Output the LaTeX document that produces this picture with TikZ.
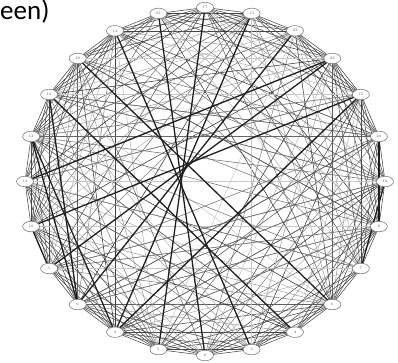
\documentclass[tikz,border=0pt]{standalone}
\usepackage{fontspec}
\newfontfamily\slidefont{Carlito}
\usetikzlibrary{shapes.geometric,backgrounds}
\tikzset{
  vtx/.style={ellipse,draw=black!50,fill=white,line width=0.6pt,minimum width=17pt,minimum height=10.5pt,inner sep=0pt,font=\fontsize{3.6}{4}\selectfont,text=black!65},
  rimedge/.style={line width=0.55pt,black!72},
  thinedge/.style={line width=0.5pt},
  darkedge/.style={line width=1.3pt,black!88},
}
\begin{document}
\begin{tikzpicture}[x=1pt,y=-1pt]
\useasboundingbox (0,0) rectangle (398,363);
\node[anchor=base west,font=\slidefont\fontsize{27}{30}\selectfont,inner sep=0pt] (title) at (0,20) {een)};
% nodes placed clockwise from the top
\foreach \i/\l in {0/17,1/13,2/23,3/22,4/15,5/20,6/19,7/8,8/7,9/6,10/4,11/2,12/0,13/5,14/3,15/9,16/1,17/10,18/11,19/12,20/16,21/18,22/14,23/21}{
  \node[vtx] (n\i) at ({205+180*cos(90-15*\i)},{181.5-174*sin(90-15*\i)}) {\l};
}
\begin{pgfonlayer}{background}
  % dense band near the rim
  \foreach \i in {0,...,23}{
    \foreach \k in {1,2,3,4}{
      \pgfmathtruncatemacro{\j}{mod(\i+\k,24)}
      \draw[rimedge] (n\i.center) -- (n\j.center);
    }
  }
  % chords of varying darkness
  \foreach \i in {0,...,23}{
    \foreach \k in {5,...,10}{
      \pgfmathtruncatemacro{\j}{mod(\i+\k,24)}
      \pgfmathtruncatemacro{\h}{mod(\i*\i*5+\k*\k*3+\i*\k*7+11,13)}
      \ifnum\h<9
        \pgfmathtruncatemacro{\c}{30+11*mod(\i*3+\k*11,6)}
        \draw[thinedge,black!\c] (n\i.center) -- (n\j.center);
      \fi
    }
  }
  % a few light chords across the middle
  \foreach \a/\b in {6/18,5/19,7/17,4/20,8/16,3/21,9/20,2/13,1/11}{
    \draw[thinedge,black!22] (n\a.center) -- (n\b.center);
  }
  % fans from the hubs on the right and left
  \foreach \s in {6,7,5}{
    \foreach \t in {14,15,16,19,20,21}{
      \draw[thinedge,black!60] (n\s.center) -- (n\t.center);
    }
  }
  \foreach \s in {19,18}{
    \foreach \t in {2,4,8,10}{
      \draw[thinedge,black!55] (n\s.center) -- (n\t.center);
    }
  }
  % heavy edges
  \foreach \a/\b in {0/13,23/12,22/11,4/14,4/17,3/18,20/10,21/9,19/15,19/14,1/14,2/15,17/16,5/7,6/8,3/16,20/15}{
    \draw[darkedge] (n\a.center) -- (n\b.center);
  }
\end{pgfonlayer}
\end{tikzpicture}
\end{document}
